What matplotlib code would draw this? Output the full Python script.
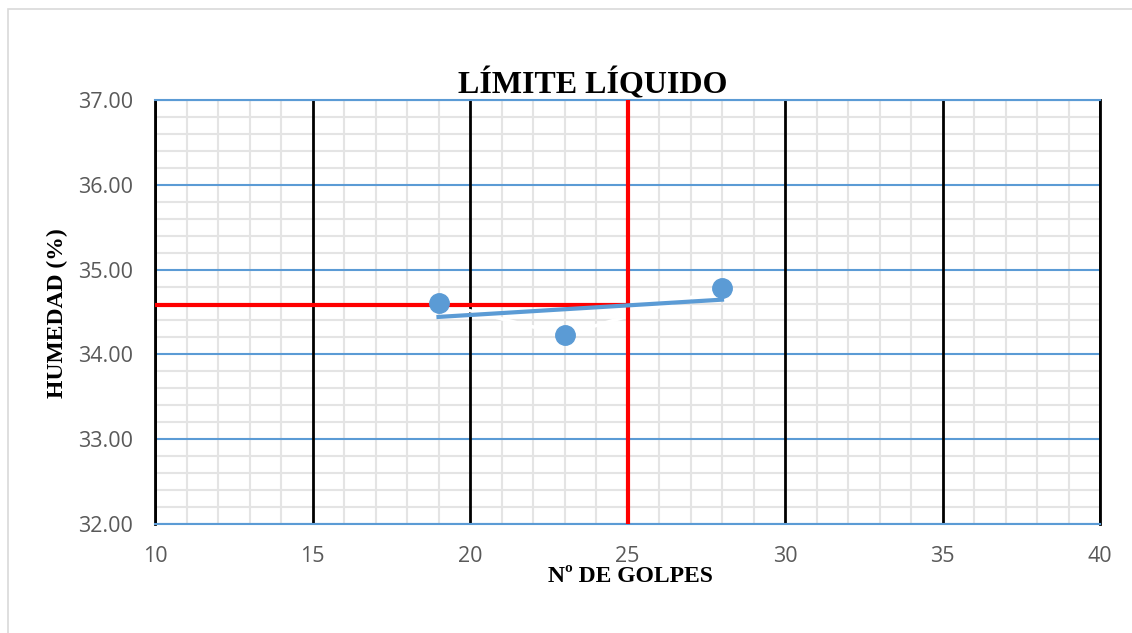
import matplotlib
matplotlib.use('Agg')
import matplotlib.pyplot as plt
import numpy as np
from matplotlib.patches import Rectangle

# Ensayo de limite liquido: numero de golpes vs humedad
golpes = [19, 23, 28]
humedad = [34.61, 34.23, 34.78]
golpes_ref = 25

x_ticks = [10, 15, 20, 25, 30, 35, 40]
y_ticks = [32.0, 33.0, 34.0, 35.0, 36.0, 37.0]

BLUE = '#5B9BD5'
GRAY_TXT = '#595959'


def main():
    fig = plt.figure(figsize=(11.32, 6.33), dpi=100)
    ax = fig.add_axes([155 / 1132, 1 - 524 / 633, 945 / 1132, 424 / 633])

    # marco del grafico
    fig.patches.append(Rectangle((8 / 1132, -0.1), 1.2, 1 - 9 / 633 + 0.1,
                                 transform=fig.transFigure, fill=False,
                                 edgecolor='#D9D9D9', linewidth=1.2))

    ax.set_xlim(x_ticks[0], x_ticks[-1])
    ax.set_ylim(y_ticks[0], y_ticks[-1])
    ax.set_xticks(x_ticks)
    ax.set_yticks(y_ticks)
    # division menor sin repetir las principales
    x_minor = [v for v in range(10, 41) if v % 5 != 0]
    y_minor = [round(32 + 0.2 * i, 1) for i in range(26) if i % 5 != 0]
    ax.set_xticks(x_minor, minor=True)
    ax.set_yticks(y_minor, minor=True)
    ax.set_yticklabels(['%.2f' % v for v in y_ticks])

    ax.yaxis.grid(which='major', color=BLUE, linewidth=1.5)
    ax.grid(which='minor', color='#E4E4E4', linewidth=1.5)
    ax.set_axisbelow(True)
    # divisiones principales en x, por encima de la cuadricula
    ax.vlines(x_ticks, y_ticks[0], y_ticks[-1], color='black', linewidth=2, zorder=1)

    for side in ['left', 'right']:
        ax.spines[side].set_color('black')
        ax.spines[side].set_linewidth(2)
    for side in ['top', 'bottom']:
        ax.spines[side].set_color(BLUE)
        ax.spines[side].set_linewidth(1.5)

    ax.tick_params(which='both', length=0)
    ax.tick_params(axis='x', pad=16, labelsize=15.5, labelcolor=GRAY_TXT)
    ax.tick_params(axis='y', pad=16, labelsize=15.5, labelcolor=GRAY_TXT)
    for lbl in ax.get_xticklabels() + ax.get_yticklabels():
        lbl.set_fontfamily('Open Sans')

    # linea de tendencia y humedad a 25 golpes
    m, b = np.polyfit(golpes, humedad, 1)
    xt = np.array([min(golpes), max(golpes)])
    ll = m * golpes_ref + b

    ax.plot([x_ticks[0], golpes_ref], [ll, ll], color='red', linewidth=3, zorder=3)
    ax.axvline(golpes_ref, color='red', linewidth=3, zorder=3)
    ax.plot(golpes, humedad, color='white', linewidth=2.5, zorder=2)
    ax.plot(xt, m * xt + b, color=BLUE, linewidth=3, zorder=4)
    ax.plot(golpes, humedad, 'o', color=BLUE, markersize=14, zorder=5)

    fig.text(593 / 1132, 1 - 84 / 633, 'LÍMITE LÍQUIDO', ha='center', va='center',
             fontsize=23, fontweight='bold', family='Liberation Serif')
    fig.text(630 / 1132, 1 - 576 / 633, 'Nº DE GOLPES', ha='center', va='center',
             fontsize=17, fontweight='bold', family='Liberation Serif')
    fig.text(57 / 1132, 1 - 313 / 633, 'HUMEDAD (%)', ha='center', va='center',
             rotation=90, fontsize=17, fontweight='bold', family='Liberation Serif')

    fig.savefig('out.png', dpi=100)
    plt.close(fig)


if __name__ == '__main__':
    main()
